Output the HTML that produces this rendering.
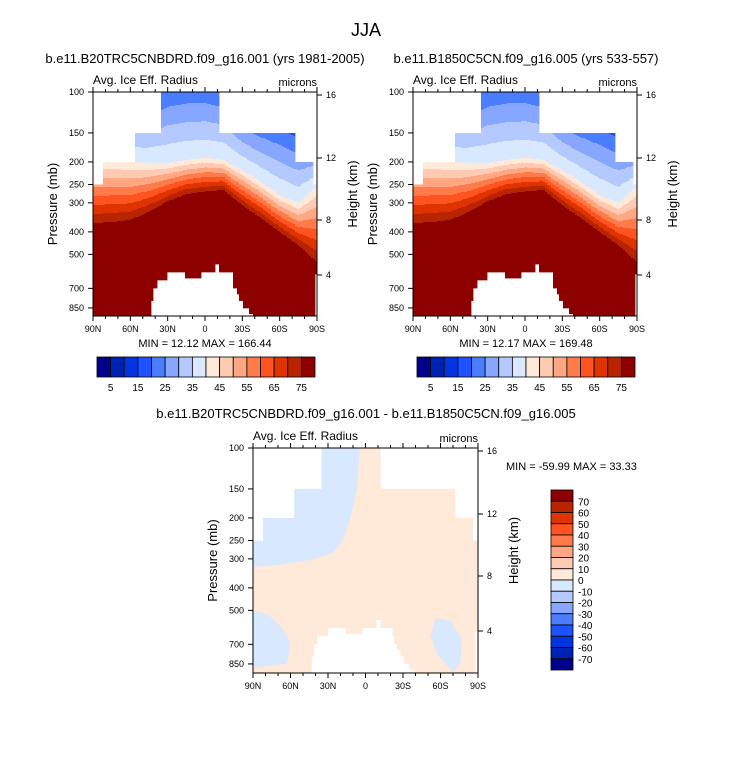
<!DOCTYPE html>
<html><head><meta charset="utf-8">
<style>
html,body{margin:0;padding:0;background:#fff;}
svg{display:block;font-family:"Liberation Sans",sans-serif;}
</style></head>
<body>
<svg id="fig" width="733" height="768" viewBox="0 0 733 768" xmlns="http://www.w3.org/2000/svg">
<rect width="733" height="768" fill="#fff"/>
<text x="366" y="36" font-size="18" text-anchor="middle">JJA</text>
<text x="205" y="63" font-size="13" text-anchor="middle">b.e11.B20TRC5CNBDRD.f09_g16.001 (yrs 1981-2005)</text>
<text x="526" y="63" font-size="13" text-anchor="middle">b.e11.B1850C5CN.f09_g16.005 (yrs 533-557)</text>
<text x="366" y="418" font-size="13" text-anchor="middle">b.e11.B20TRC5CNBDRD.f09_g16.001 - b.e11.B1850C5CN.f09_g16.005</text>
<text x="205" y="347" font-size="11" text-anchor="middle">MIN =  12.12  MAX = 166.44</text>
<text x="526" y="347" font-size="11" text-anchor="middle">MIN =  12.17  MAX = 169.48</text>
<text x="506" y="470" font-size="11">MIN = -59.99  MAX = 33.33</text>
<g id="layer"></g>
</svg>
<script>
// ---- data ----
const colors = ["#00008c","#0022b4","#0035e0","#1f52ff","#4a7dff","#87a7ff","#b4caff","#d7e8ff","#ffe9d8","#ffcab2","#ffa783","#ff7c4a","#ff5321","#e03400","#b82400","#8c0000"];
const cbLabels = ["5","15","25","35","45","55","65","75"];
const diffLabels = ["70","60","50","40","30","20","10","0","-10","-20","-30","-40","-50","-60","-70"];
const lats = [90,75,60,45,30,15,0,-15,-30,-45,-60,-75,-90];
const p75 = [366,363,355,328,295,275,268,264,307,348,400,455,538];
const p40 = [196,196,200,202,202,196,192,196,217,244,278,300,251];
const p20 = [112,112,112,110,96,93,93,98,125,135,143,158,166];
const topLat = [90,82,57,35,-12,-72,-86];
const topP = [250,200,150,100,150,200,250];
const surfLat = [90,43,41,38.6,30,16,2.5,-8.6,-12,-21.7,-23,-25,-28,-31,-35,-39,-42.6,-88];
const surfP = [2000,790,698,644,595,632,595,550,595,644,698,740,790,850,900,960,2000,610];
const diffBlueA = [[90,90],[4,90],[7,152],[12,200],[18,249],[26,283],[44,303],[70,318],[90,325]];
const diffBlueB = [[90,500],[78,520],[66,600],[60,700],[63,850],[90,880]];
const diffBlueC = [[-56,540],[-68,555],[-77,660],[-76,850],[-70,920],[-58,780],[-52,640]];
const pTicks = [100,150,200,250,300,400,500,700,850];
const latTicks = [90,60,30,0,-30,-60,-90];
const latNames = ["90N","60N","30N","0","30S","60S","90S"];
const hTicks = [16,12,8,4];
const hOffsets = [3,66,128,183];

const NS = "http://www.w3.org/2000/svg";
const layer = document.getElementById('layer');
function mk(tag, attrs, parent){const e=document.createElementNS(NS,tag);for(const k in attrs)e.setAttribute(k,attrs[k]);(parent||layer).appendChild(e);return e;}

function axes(x0,y0,w){
  return {x:lat=>x0+(90-lat)/180*w, y:p=>y0+Math.log(p/100)*100.9, x0,y0,w,bot:y0+w};
}
function interp(arr, lat){
  for(let i=0;i<lats.length-1;i++){
    if(lat<=lats[i]&&lat>=lats[i+1]){const t=(lats[i]-lat)/(lats[i]-lats[i+1]);return arr[i]+(arr[i+1]-arr[i])*t;}
  }
  return arr[arr.length-1];
}
function step(latsA, vals, lat){
  let v=vals[0];
  for(let i=0;i<latsA.length;i++){if(lat<=latsA[i])v=vals[i];}
  return v;
}
function valueAt(lat,p){
  const L=Math.log(p),L75=Math.log(interp(p75,lat)),L40=Math.log(interp(p40,lat)),L20=Math.log(interp(p20,lat));
  if(L>=L75)return 80;
  if(L>=L40)return 40+35*(L-L40)/(L75-L40);
  return 40-20*(L40-L)/(L40-L20);
}
function maskPath(A){
  let d="";
  const n=topLat.length;
  for(let i=0;i<n;i++){
    const a=topLat[i],b=i<n-1?topLat[i+1]:-90;
    const y=A.y(topP[i]);
    d+=(i==0?"M":"L")+A.x(a)+","+y+"L"+A.x(b)+","+y;
  }
  const m=surfLat.length;
  for(let i=m-1;i>=0;i--){
    const a=i<m-1?surfLat[i+1]:-90,b=surfLat[i];
    const y=Math.min(A.y(surfP[i]),A.bot);
    d+="L"+A.x(a)+","+y+"L"+A.x(b)+","+y;
  }
  return d+"Z";
}

function drawField(A,name){
  const g=mk('g',{});
  
  
  const cols=112, cw=A.w/cols;
  for(let c=0;c<cols;c++){
    const lat=90-(c+0.5)/cols*180;
    const yt=A.y(step(topLat,topP,lat));
    const yb=Math.min(A.y(step(surfLat,surfP,lat)),A.bot);
    let runStart=yt,runIdx=-1;
    for(let y=Math.round(yt);y<=Math.round(yb);y++){
      const yy=Math.min(y,yb);
      const p=100*Math.exp((yy+0.5-A.y0)/100.9);
      const v=valueAt(lat,p);
      const idx=Math.max(0,Math.min(15,Math.floor(v/5)));
      if(idx!==runIdx||y===Math.round(yb)){
        if(runIdx>=0){
          const r=mk('rect',{x:A.x0+c*cw,y:runStart,width:cw+0.4,height:Math.max(0,Math.min(y,yb)-runStart+0.4),fill:colors[runIdx]},g);
          
          
        }
        runStart=Math.max(y,yt);runIdx=idx;
      }
    }
  }
}

function polyPath(A,pts){return "M"+pts.map(q=>A.x(q[0])+","+A.y(q[1])).join("L")+"Z";}

function drawFrame(A,name){
  const g=mk('g',{stroke:"#000","stroke-width":1,fill:"none"});
  
  
  mk('rect',{x:A.x0,y:A.y0,width:A.w,height:A.w},g);
  for(let l=90;l>=-90;l-=10){
    const x=A.x(l),major=(l%30===0);
    mk('line',{x1:x,y1:A.bot,x2:x,y2:A.bot+(major?5:3)},g);
    mk('line',{x1:x,y1:A.y0,x2:x,y2:A.y0-(major?5:3)},g);
  }
  pTicks.forEach(p=>{mk('line',{x1:A.x0,y1:A.y(p),x2:A.x0-5,y2:A.y(p)},g);});
  hOffsets.forEach(o=>{mk('line',{x1:A.x0+A.w,y1:A.y0+o,x2:A.x0+A.w+5,y2:A.y0+o},g);});
  latTicks.forEach((l,i)=>{const t=mk('text',{x:A.x(l),y:A.bot+16,"font-size":9,"text-anchor":"middle",fill:"#000",stroke:"none"},g);t.textContent=latNames[i];
    });
  pTicks.forEach(p=>{const t=mk('text',{x:A.x0-9,y:A.y(p)+3,"font-size":9,"text-anchor":"end",fill:"#000",stroke:"none"},g);t.textContent=p;
    });
  hTicks.forEach((h,i)=>{const t=mk('text',{x:A.x0+A.w+9,y:A.y0+hOffsets[i]+3,"font-size":9,fill:"#000",stroke:"none"},g);t.textContent=h;
    });
  let t=mk('text',{x:A.x0,y:A.y0-8,"font-size":12,fill:"#000",stroke:"none"},g);t.textContent="Avg. Ice Eff. Radius";
  
  t=mk('text',{x:A.x0+A.w,y:A.y0-6,"font-size":11,"text-anchor":"end",fill:"#000",stroke:"none"},g);t.textContent="microns";
  
  const cy=A.y0+A.w/2;
  t=mk('text',{x:A.x0-36,y:cy,"font-size":13,"text-anchor":"middle",fill:"#000",stroke:"none",transform:`rotate(-90 ${A.x0-36} ${cy})`},g);t.textContent="Pressure (mb)";
  
  t=mk('text',{x:A.x0+A.w+40,y:cy-10,"font-size":13,"text-anchor":"middle",fill:"#000",stroke:"none",transform:`rotate(-90 ${A.x0+A.w+40} ${cy-10})`},g);t.textContent="Height (km)";
  
}

function hColorbar(x0,y0,name){
  const g=mk('g',{});
  
  
  const bw=218/16;
  colors.forEach((c,i)=>{const r=mk('rect',{x:x0+i*bw,y:y0,width:bw,height:20,fill:c,stroke:"#000","stroke-width":0.8},g);
    });
  cbLabels.forEach((l,i)=>{const t=mk('text',{x:x0+(1+2*i)*bw,y:y0+34,"font-size":10,"text-anchor":"middle"},g);t.textContent=l;
    });
}

// top panels
[[93,"left"],[413,"right"]].forEach(([x0,name])=>{
  const A=axes(x0,92,224);
  drawField(A,name);
  drawFrame(A,name);
  hColorbar(x0+4,357,name+'-colorbar');
});

// diff panel
const D=axes(253,448,225);
const clip=mk('clipPath',{id:'dclip'});
mk('path',{d:maskPath(D)},clip);
const dg=mk('g',{"clip-path":"url(#dclip)"});


const bg=mk('rect',{x:D.x0,y:D.y0,width:D.w,height:D.w,fill:colors[8]},dg);


[diffBlueA,diffBlueB,diffBlueC].forEach(pts=>{
  const p=mk('path',{d:polyPath(D,pts),fill:colors[7]},dg);
  
  
});
drawFrame(D,'diff');

// vertical colorbar
const vg=mk('g',{});


const bh=180/16;
colors.slice().reverse().forEach((c,i)=>{const r=mk('rect',{x:551,y:490+i*bh,width:22,height:bh,fill:c,stroke:"#000","stroke-width":0.8},vg);
  });
diffLabels.forEach((l,i)=>{const t=mk('text',{x:578,y:490+(i+1)*bh+4,"font-size":10},vg);t.textContent=l;
  });
</script>
</body></html>
